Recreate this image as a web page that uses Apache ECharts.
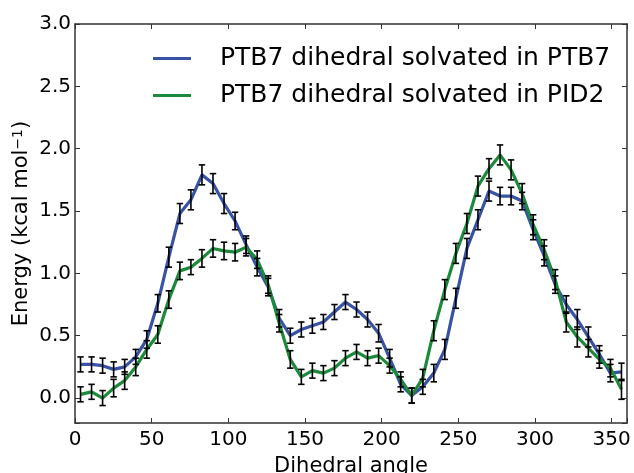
<!DOCTYPE html>
<html><head><meta charset="utf-8">
<script src="https://cdn.jsdelivr.net/npm/echarts@6/dist/echarts.min.js"></script>
<style>html,body{margin:0;padding:0;background:#fff}#c{width:634px;height:473px}</style>
</head><body><div id="c"></div>
<script>
const angles = [3.6, 10.8, 18.0, 25.2, 32.4, 39.6, 46.8, 54.0, 61.2, 68.4,
  75.6, 82.8, 90.0, 97.2, 104.4, 111.6, 118.8, 126.0, 133.2, 140.4,
  147.6, 154.8, 162.0, 169.2, 176.4, 183.6, 190.8, 198.0, 205.2, 212.4,
  219.6, 226.8, 234.0, 241.2, 248.4, 255.6, 262.8, 270.0, 277.2, 284.4,
  291.6, 298.8, 306.0, 313.2, 320.4, 327.6, 334.8, 342.0, 349.2, 356.4];
const energyPTB7 = [0.27, 0.27, 0.26, 0.23, 0.25, 0.33, 0.47, 0.76, 1.13, 1.48,
  1.59, 1.79, 1.72, 1.56, 1.42, 1.23, 1.05, 0.89, 0.64, 0.50,
  0.55, 0.58, 0.61, 0.69, 0.77, 0.71, 0.63, 0.52, 0.32, 0.11,
  0.02, 0.09, 0.20, 0.39, 0.80, 1.20, 1.43, 1.66, 1.62, 1.62,
  1.58, 1.35, 1.14, 0.91, 0.75, 0.63, 0.49, 0.35, 0.20, 0.21];
const energyPID2 = [0.03, 0.05, 0.00, 0.08, 0.14, 0.25, 0.39, 0.51, 0.79, 1.02,
  1.05, 1.12, 1.20, 1.18, 1.17, 1.21, 1.11, 0.91, 0.60, 0.31,
  0.17, 0.22, 0.20, 0.24, 0.32, 0.37, 0.32, 0.34, 0.26, 0.15,
  0.02, 0.16, 0.54, 0.87, 1.16, 1.40, 1.70, 1.84, 1.95, 1.83,
  1.64, 1.39, 1.19, 0.95, 0.61, 0.49, 0.40, 0.31, 0.24, 0.07];
const errPTB7 = [0.06, 0.06, 0.06, 0.06, 0.06, 0.06, 0.07, 0.07, 0.08, 0.08,
  0.08, 0.08, 0.08, 0.08, 0.07, 0.07, 0.07, 0.07, 0.07, 0.06,
  0.06, 0.06, 0.06, 0.06, 0.06, 0.06, 0.06, 0.07, 0.07, 0.06,
  0.06, 0.06, 0.07, 0.08, 0.08, 0.08, 0.08, 0.08, 0.07, 0.07,
  0.07, 0.08, 0.08, 0.07, 0.07, 0.08, 0.08, 0.07, 0.07, 0.07];
const errPID2 = [0.06, 0.06, 0.06, 0.07, 0.07, 0.07, 0.07, 0.07, 0.07, 0.07,
  0.06, 0.07, 0.07, 0.07, 0.07, 0.07, 0.07, 0.07, 0.07, 0.07,
  0.06, 0.06, 0.06, 0.06, 0.06, 0.06, 0.06, 0.06, 0.06, 0.06,
  0.06, 0.07, 0.08, 0.08, 0.08, 0.08, 0.08, 0.08, 0.08, 0.08,
  0.08, 0.08, 0.08, 0.08, 0.08, 0.08, 0.07, 0.07, 0.07, 0.08];
const seriesNames = ['PTB7 dihedral solvated in PTB7', 'PTB7 dihedral solvated in PID2'];
const xTickLabels = [0, 50, 100, 150, 200, 250, 300, 350];
const yTickLabels = [0.0, 0.5, 1.0, 1.5, 2.0, 2.5, 3.0];

const FONT = 'DejaVu Sans';
const BLUE = '#3953a4', GREEN = '#1c8a3c';

function toErr(ys, es) { return angles.map((a, i) => [a, ys[i] - es[i], ys[i] + es[i]]); }
function renderErr(params, api) {
  const x = api.value(0);
  const p1 = api.coord([x, api.value(1)]);
  const p2 = api.coord([x, api.value(2)]);
  const w = 3.2, st = { stroke: '#000', lineWidth: 1.6 };
  return { type: 'group', children: [
    { type: 'line', shape: { x1: p1[0], y1: p1[1], x2: p2[0], y2: p2[1] }, style: st },
    { type: 'line', shape: { x1: p1[0] - w, y1: p1[1], x2: p1[0] + w, y2: p1[1] }, style: st },
    { type: 'line', shape: { x1: p2[0] - w, y1: p2[1], x2: p2[0] + w, y2: p2[1] }, style: st }
  ]};
}
const axisLine = { show: true, onZero: false, lineStyle: { color: '#333', width: 1.5 } };
const tick = { show: true, inside: true, length: 5, lineStyle: { color: '#333', width: 1 } };
const labelStyle = { color: '#000', fontFamily: FONT, fontSize: 20 };

const chart = echarts.init(document.getElementById('c'), null, { renderer: 'canvas' });
chart.setOption({
  animation: false,
  backgroundColor: '#fff',
  grid: { left: 75, right: 7, top: 24, bottom: 50, containLabel: false, outerBoundsMode: 'none' },
  legend: {
    orient: 'vertical', left: 148, top: 41, itemWidth: 38, itemHeight: 3, itemGap: 12,
    icon: 'rect',
    textStyle: { fontFamily: FONT, fontSize: 25, color: '#000', padding: [0, 0, 0, 24] },
    data: seriesNames
  },
  xAxis: [{
    type: 'value', min: 0, max: 360, interval: 50,
    name: 'Dihedral angle', nameLocation: 'middle', nameGap: 33, nameMoveOverlap: false,
    nameTextStyle: { fontFamily: FONT, fontSize: 21, color: '#000', verticalAlign: 'top' },
    axisLine: axisLine, axisTick: tick, splitLine: { show: false },
    axisLabel: Object.assign({ margin: 7, formatter: v => xTickLabels.includes(v) ? String(v) : '' }, labelStyle)
  }, {
    type: 'value', position: 'top', min: 0, max: 360, interval: 50,
    axisLine: axisLine, axisTick: tick, splitLine: { show: false }, axisLabel: { show: false }
  }],
  yAxis: [{
    type: 'value', min: -0.2, max: 3.0, minInterval: 0.5, maxInterval: 0.5, splitNumber: 6,
    name: 'Energy (kcal mol{sup|−1})', nameLocation: 'middle', nameGap: 42, nameMoveOverlap: false,
    nameTextStyle: { fontFamily: FONT, fontSize: 21, color: '#000',
      rich: { sup: { fontFamily: FONT, fontSize: 14, color: '#000', verticalAlign: 'top', padding: [0, 0, 8, 0] } } },
    axisLine: axisLine, axisTick: tick, splitLine: { show: false },
    axisLabel: Object.assign({ margin: 4, formatter: v => {
      const m = yTickLabels.find(t => Math.abs(t - v) < 1e-6);
      return m === undefined ? '' : m.toFixed(1);
    } }, labelStyle)
  }, {
    type: 'value', position: 'right', min: -0.2, max: 3.0, minInterval: 0.5, maxInterval: 0.5, splitNumber: 6,
    axisLine: axisLine, axisTick: tick, splitLine: { show: false }, axisLabel: { show: false }
  }],
  series: [
    { name: seriesNames[0], type: 'line', data: angles.map((a, i) => [a, energyPTB7[i]]),
      showSymbol: false, symbol: 'none', color: BLUE, lineStyle: { color: BLUE, width: 3.2 }, z: 2 },
    { name: seriesNames[1], type: 'line', data: angles.map((a, i) => [a, energyPID2[i]]),
      showSymbol: false, symbol: 'none', color: GREEN, lineStyle: { color: GREEN, width: 3.2 }, z: 3 },
    { type: 'custom', data: toErr(energyPTB7, errPTB7), renderItem: renderErr, encode: { x: 0, y: [1, 2] }, z: 4, silent: true },
    { type: 'custom', data: toErr(energyPID2, errPID2), renderItem: renderErr, encode: { x: 0, y: [1, 2] }, z: 4, silent: true }
  ]
});
</script>
</body></html>
